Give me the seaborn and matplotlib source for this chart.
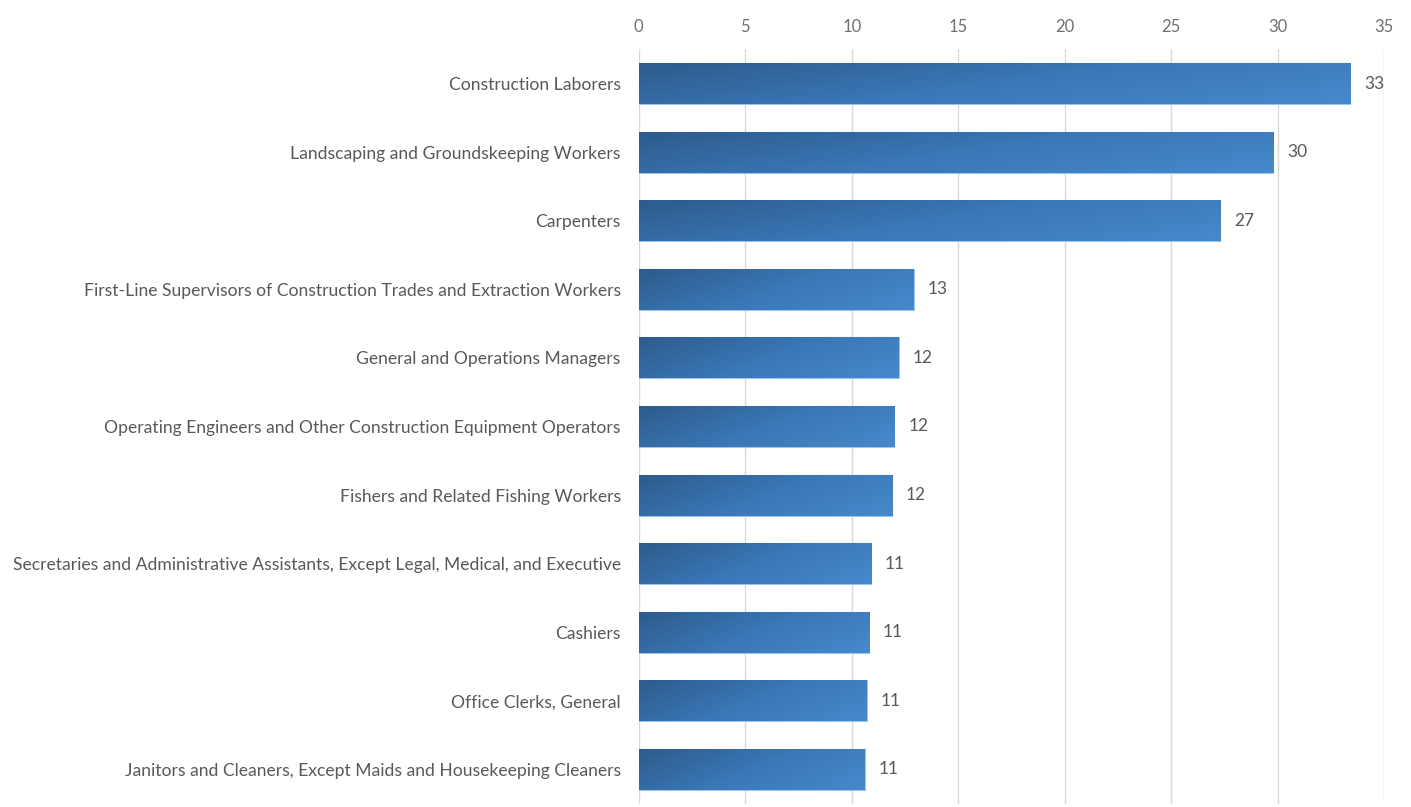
import numpy as np
import matplotlib
matplotlib.use("Agg")
import matplotlib.pyplot as plt
from matplotlib.colors import LinearSegmentedColormap
import seaborn as sns

occupations = [
    "Construction Laborers",
    "Landscaping and Groundskeeping Workers",
    "Carpenters",
    "First-Line Supervisors of Construction Trades and Extraction Workers",
    "General and Operations Managers",
    "Operating Engineers and Other Construction Equipment Operators",
    "Fishers and Related Fishing Workers",
    "Secretaries and Administrative Assistants, Except Legal, Medical, and Executive",
    "Cashiers",
    "Office Clerks, General",
    "Janitors and Cleaners, Except Maids and Housekeeping Cleaners",
]
counts = [33.4, 29.8, 27.3, 12.9, 12.2, 12.0, 11.9, 10.9, 10.8, 10.7, 10.6]
x_ticks = [0, 5, 10, 15, 20, 25, 30, 35]

sns.set_theme(style="white")
plt.rcParams["font.family"] = ["Lato", "DejaVu Sans"]

fig = plt.figure(figsize=(14.11, 8.07), dpi=100)
ax = fig.add_axes([0.4527, 0.004, 0.981 - 0.4527, 0.935])

sns.barplot(x=counts, y=occupations, orient="h", color="#3b78b8",
            width=0.6, ax=ax, zorder=3)

# gradient fill: darker at top-left, lighter toward bottom-right
grad_cmap = LinearSegmentedColormap.from_list(
    "bar_grad", ["#2d5b8c", "#3a77b6", "#4689cc"])
gx, gy = np.meshgrid(np.linspace(0, 1, 256), np.linspace(0, 1, 64))
grad = 0.7 * gx + 0.3 * gy

for patch in ax.patches:
    x0, y0 = patch.get_x(), patch.get_y()
    w, h = patch.get_width(), patch.get_height()
    img = ax.imshow(grad, cmap=grad_cmap, aspect="auto",
                    extent=[x0, x0 + w, y0 + h, y0], origin="upper",
                    zorder=3.5, interpolation="bilinear")
    img.set_clip_path(patch)
    patch.set_edgecolor("#9cc6ec")
    patch.set_linewidth(0.8)

for cont in ax.containers:
    ax.bar_label(cont, fmt="%.0f", padding=10, fontsize=12.5,
                 color="#595959", zorder=5)

ax.set_xlim(0, 35)
ax.set_ylim(len(occupations) - 0.5, -0.5)
ax.set_xticks(x_ticks)
ax.xaxis.tick_top()
ax.tick_params(axis="x", length=0, pad=10, labelsize=12, labelcolor="#707070")
ax.tick_params(axis="y", length=0, pad=13, labelsize=12.6, labelcolor="#595959")
ax.grid(axis="x", color="#d9d9d9", linewidth=1, zorder=0)
ax.set_axisbelow(True)
for s in ax.spines.values():
    s.set_visible(False)
ax.set_xlabel("")
ax.set_ylabel("")

fig.savefig("out.png", dpi=100)
